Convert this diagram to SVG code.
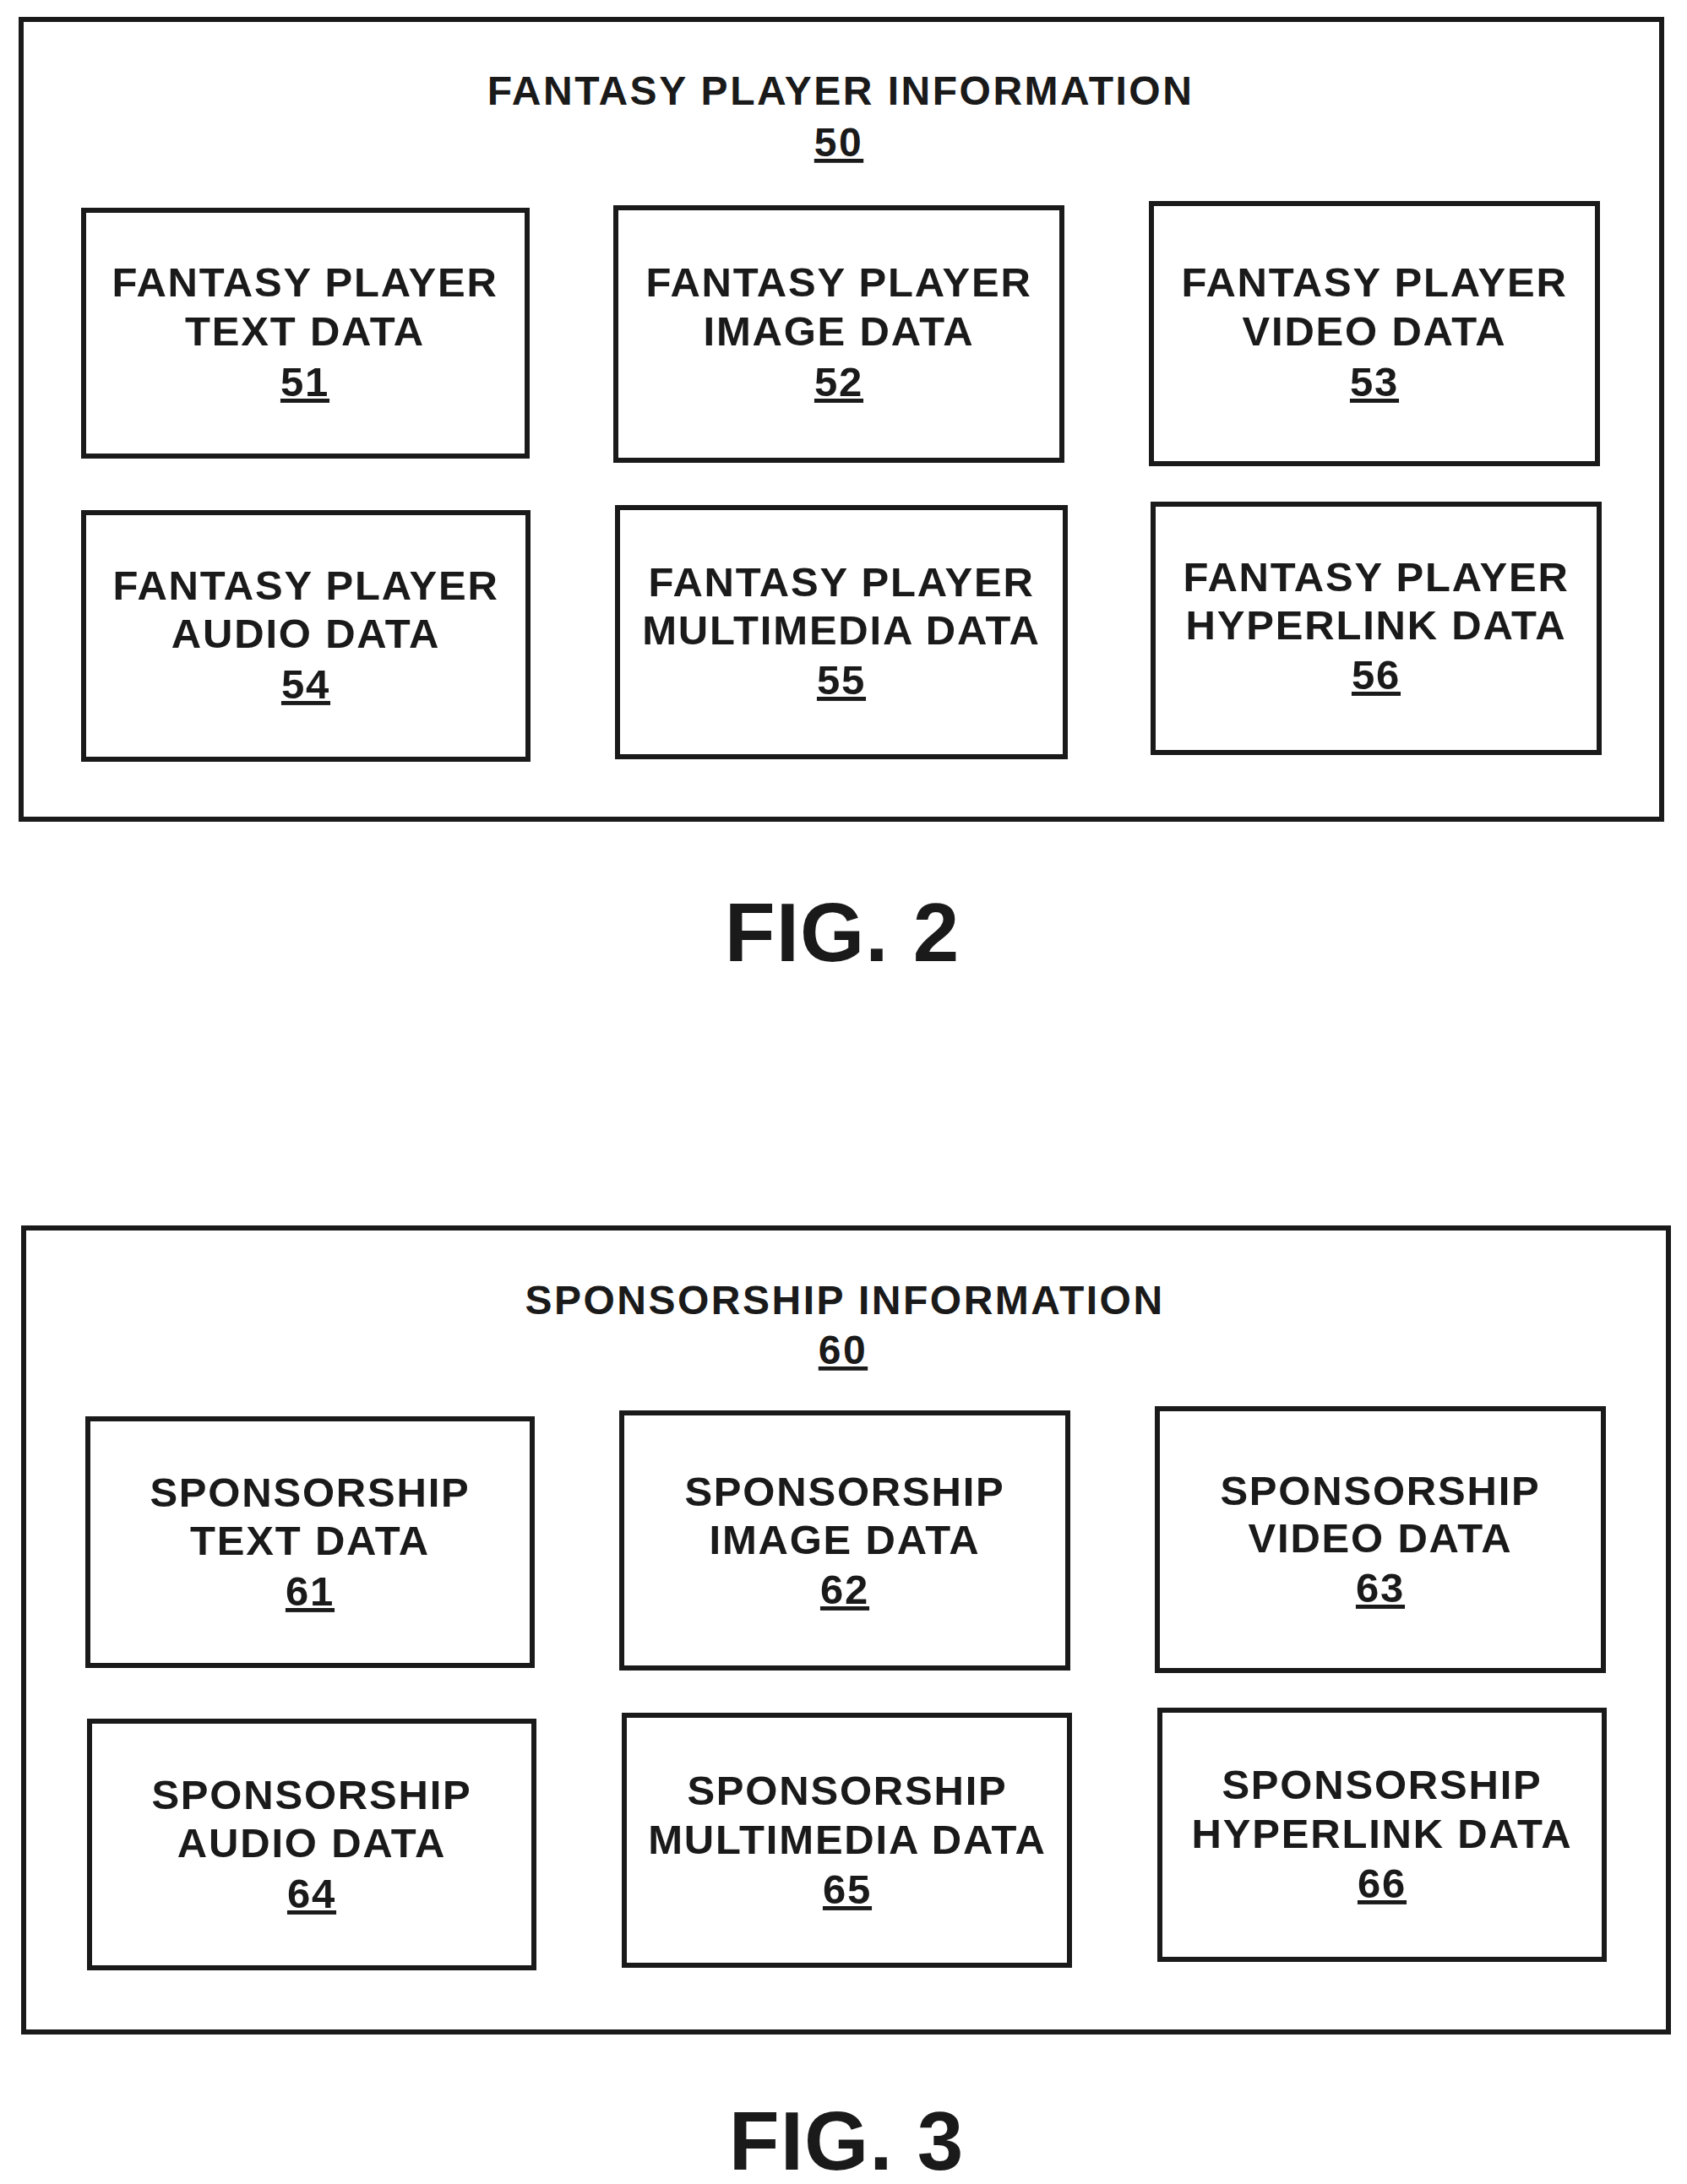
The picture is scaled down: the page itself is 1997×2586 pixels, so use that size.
<svg xmlns="http://www.w3.org/2000/svg" width="1997" height="2586" viewBox="0 0 1997 2586">
<style>
rect{fill:none;stroke:#1a1a1a;stroke-width:6}
text{font-family:"Liberation Sans",Arial,sans-serif;font-weight:bold;fill:#1a1a1a;text-anchor:middle;font-size:49px;letter-spacing:1.8px}
.t{font-size:48px;letter-spacing:2.5px}
.u{text-decoration:underline}
.fig{font-size:98px;letter-spacing:1px}
</style>
<rect width="1997" height="2586" style="fill:#fff;stroke:none"/>
<g id="fig2">
<rect x="25" y="23" width="1942" height="947"/>
<text class="t" x="995" y="124">FANTASY PLAYER INFORMATION</text>
<text class="t u" x="993" y="185">50</text>
</g>
<g id="n51"><rect x="99" y="249" width="525" height="291"/><text x="361" y="351">FANTASY PLAYER</text><text x="361" y="409">TEXT DATA</text><text class="u" x="361" y="469">51</text></g>
<g id="n52"><rect x="729" y="246" width="528" height="299"/><text x="993" y="351">FANTASY PLAYER</text><text x="993" y="409">IMAGE DATA</text><text class="u" x="993" y="469">52</text></g>
<g id="n53"><rect x="1363" y="241" width="528" height="308"/><text x="1627" y="351">FANTASY PLAYER</text><text x="1627" y="409">VIDEO DATA</text><text class="u" x="1627" y="469">53</text></g>
<g id="n54"><rect x="99" y="607" width="526" height="292"/><text x="362" y="710">FANTASY PLAYER</text><text x="362" y="767">AUDIO DATA</text><text class="u" x="362" y="827">54</text></g>
<g id="n55"><rect x="731" y="601" width="530" height="295"/><text x="996" y="706">FANTASY PLAYER</text><text x="996" y="763">MULTIMEDIA DATA</text><text class="u" x="996" y="822">55</text></g>
<g id="n56"><rect x="1365" y="597" width="528" height="294"/><text x="1629" y="700">FANTASY PLAYER</text><text x="1629" y="757">HYPERLINK DATA</text><text class="u" x="1629" y="816">56</text></g>
<text class="fig" x="997" y="1138">FIG. 2</text>
<g id="fig3">
<rect x="28" y="1454" width="1947" height="952"/>
<text class="t" x="1000" y="1556">SPONSORSHIP INFORMATION</text>
<text class="t u" x="998" y="1615">60</text>
</g>
<g id="n61"><rect x="104" y="1680" width="526" height="292"/><text x="367" y="1784">SPONSORSHIP</text><text x="367" y="1841">TEXT DATA</text><text class="u" x="367" y="1901">61</text></g>
<g id="n62"><rect x="736" y="1673" width="528" height="302"/><text x="1000" y="1783">SPONSORSHIP</text><text x="1000" y="1840">IMAGE DATA</text><text class="u" x="1000" y="1899">62</text></g>
<g id="n63"><rect x="1370" y="1668" width="528" height="310"/><text x="1634" y="1782">SPONSORSHIP</text><text x="1634" y="1838">VIDEO DATA</text><text class="u" x="1634" y="1897">63</text></g>
<g id="n64"><rect x="106" y="2038" width="526" height="292"/><text x="369" y="2142">SPONSORSHIP</text><text x="369" y="2199">AUDIO DATA</text><text class="u" x="369" y="2259">64</text></g>
<g id="n65"><rect x="739" y="2031" width="527" height="296"/><text x="1003" y="2137">SPONSORSHIP</text><text x="1003" y="2195">MULTIMEDIA DATA</text><text class="u" x="1003" y="2254">65</text></g>
<g id="n66"><rect x="1373" y="2025" width="526" height="295"/><text x="1636" y="2130">SPONSORSHIP</text><text x="1636" y="2188">HYPERLINK DATA</text><text class="u" x="1636" y="2247">66</text></g>
<text class="fig" x="1002" y="2569">FIG. 3</text>
<g id="connectors"/>
</svg>
